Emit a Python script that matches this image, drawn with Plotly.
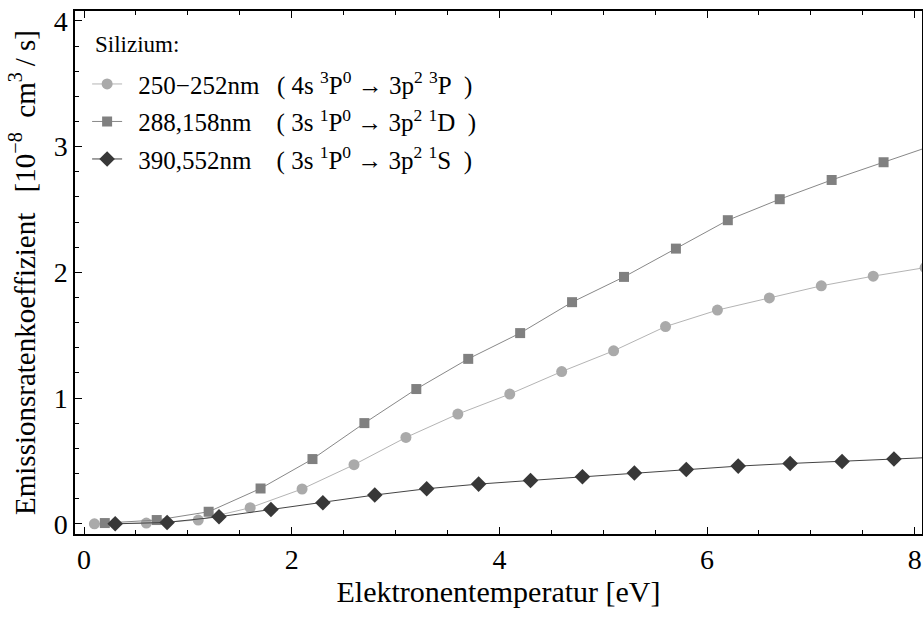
import plotly.graph_objects as go

# Data
x_si250 = [0.1, 0.6, 1.1, 1.6, 2.1, 2.6, 3.1, 3.6, 4.1, 4.6, 5.1, 5.6, 6.1, 6.6, 7.1, 7.6, 8.1]
y_si250 = [0.0, 0.006, 0.03, 0.128, 0.277, 0.47, 0.687, 0.873, 1.032, 1.211, 1.376, 1.569,
           1.70, 1.797, 1.893, 1.97, 2.038]

x_si288 = [0.2, 0.7, 1.2, 1.7, 2.2, 2.7, 3.2, 3.7, 4.2, 4.7, 5.2, 5.7, 6.2, 6.7, 7.2, 7.7, 8.2]
y_si288 = [0.006, 0.03, 0.096, 0.281, 0.515, 0.801, 1.072, 1.312, 1.517, 1.763, 1.964, 2.189,
           2.415, 2.582, 2.735, 2.876, 3.017]

x_si390 = [0.3, 0.8, 1.3, 1.8, 2.3, 2.8, 3.3, 3.8, 4.3, 4.8, 5.3, 5.8, 6.3, 6.8, 7.3, 7.8, 8.3]
y_si390 = [0.0, 0.011, 0.056, 0.114, 0.168, 0.229, 0.279, 0.316, 0.345, 0.374, 0.404, 0.432,
           0.459, 0.48, 0.496, 0.515, 0.533]

names = [
    "\u00a0\u2009250\u2212252nm\u00a0\u00a0\u2009( 4s <sup>3</sup>P<sup>0</sup> \u2192 3p<sup>2</sup> <sup>3</sup>P\u00a0\u00a0)",
    "\u00a0\u2009288,158nm\u00a0\u00a0\u00a0\u00a0( 3s <sup>1</sup>P<sup>0</sup> \u2192 3p<sup>2</sup> <sup>1</sup>D\u00a0\u00a0)",
    "\u00a0\u2009390,552nm\u00a0\u00a0\u00a0\u00a0( 3s <sup>1</sup>P<sup>0</sup> \u2192 3p<sup>2</sup> <sup>1</sup>S\u00a0\u00a0)",
]
legend_title = "Silizium:"
x_ticks = [0, 2, 4, 6, 8]
y_ticks = [0, 1, 2, 3, 4]

FONT = "'Liberation Serif', 'DejaVu Serif', serif"

fig = go.Figure()
styles = [
    dict(symbol="circle", size=11, color="#aaaaaa", line="#b4b4b4"),
    dict(symbol="square", size=10, color="#808080", line="#888888"),
    dict(symbol="diamond", size=12, color="#383838", line="#444444"),
]
for i, (xs, ys) in enumerate([(x_si250, y_si250), (x_si288, y_si288), (x_si390, y_si390)]):
    st = styles[i]
    fig.add_trace(go.Scatter(
        x=xs, y=ys, mode="lines+markers", name=names[i],
        legendgroup=f"g{i}",
        line=dict(color=st["line"], width=1),
        marker=dict(symbol=st["symbol"], size=st["size"], color=st["color"], line=dict(width=0)),
        cliponaxis=True,
    ))

fig.add_annotation(
    text=legend_title, xref="paper", yref="paper",
    x=0.021, y=0.935, xanchor="left", yanchor="middle", showarrow=False,
    font=dict(family=FONT, size=23, color="black"),
)

fig.update_layout(
    width=923, height=618,
    margin=dict(l=75, r=1, t=11, b=84, autoexpand=False),
    paper_bgcolor="white", plot_bgcolor="white",
    font=dict(family=FONT, color="black"),
    showlegend=True,
    legend=dict(
        x=0.0143, y=0.904, xanchor="left", yanchor="top",
        bgcolor="rgba(0,0,0,0)",
        font=dict(family=FONT, size=25, color="black"),
        traceorder="grouped", tracegroupgap=2,
        itemwidth=30,
    ),
    xaxis=dict(
        range=[-0.087, 8.07], automargin=False,
        tickvals=x_ticks, ticktext=[str(v) for v in x_ticks],
        ticks="inside", ticklen=7, tickwidth=1.2, tickcolor="black",
        minor=dict(dtick=0.5, ticks="inside", ticklen=4.5, tickwidth=1.2, tickcolor="black"),
        showline=True, linecolor="black", linewidth=1.5, mirror="ticks",
        showgrid=False, zeroline=False,
        tickfont=dict(family=FONT, size=28),
        title=dict(text="Elektronentemperatur [eV]", font=dict(family=FONT, size=30), standoff=3),
    ),
    yaxis=dict(
        range=[-0.081, 4.079], automargin=False,
        tickvals=y_ticks, ticktext=[str(v) for v in y_ticks],
        ticks="inside", ticklen=7, tickwidth=1.2, tickcolor="black",
        minor=dict(dtick=0.2, ticks="inside", ticklen=4.5, tickwidth=1.2, tickcolor="black"),
        showline=True, linecolor="black", linewidth=1.5, mirror=True,
        showgrid=False, zeroline=False,
        tickfont=dict(family=FONT, size=28),
        title=dict(text="Emissionsratenkoeffizient\u00a0\u00a0\u2009[10<sup>\u22128</sup>\u00a0\u00a0cm<sup>3</sup>\u2009/\u00a0s]",
                   font=dict(family=FONT, size=29), standoff=10),
    ),
)

fig.write_html("out.html", config={"displayModeBar": False},
               post_script="document.body.style.margin='0';")
